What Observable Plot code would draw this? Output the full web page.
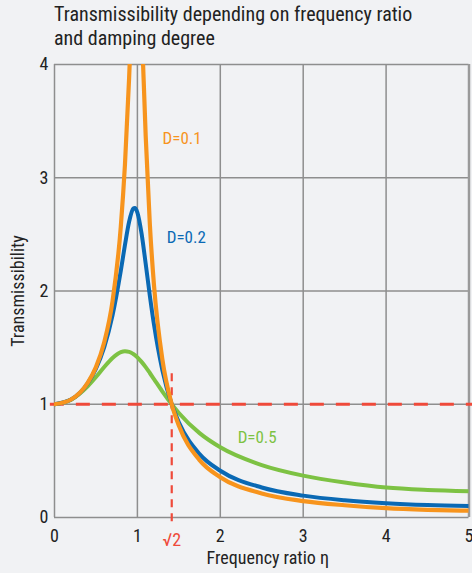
<!DOCTYPE html>
<html><head><meta charset="utf-8">
<script src="https://cdn.jsdelivr.net/npm/d3@7"></script>
<script src="https://cdn.jsdelivr.net/npm/@observablehq/plot@0.6"></script>
<style>
body{margin:0;background:#f1f2f4;width:472px;height:573px;overflow:hidden;font-family:"Liberation Sans Narrow","Roboto Condensed","DejaVu Sans Condensed",Roboto,sans-serif;}
#title{position:absolute;left:54px;top:0;font-size:20px;line-height:24.5px;color:#222;padding-top:1.5px;white-space:nowrap}
#chart{position:absolute;left:0;top:50px}
</style></head><body>
<div id="title">Transmissibility depending on frequency ratio<br>and damping degree</div>
<div id="chart"></div>
<script>
const eta = [0, 0.2, 0.4, 0.5, 0.6, 0.7, 0.8, 0.85, 0.9, 0.95, 0.97, 1, 1.05, 1.1, 1.15, 1.2, 1.3, 1.414, 1.5, 1.75, 2, 2.5, 3, 3.5, 4, 4.5, 5];
const tD01 = [1, 1.042, 1.189, 1.328, 1.547, 1.909, 2.571, 3.117, 3.88, 4.77, 5.02, 5.10, 4.37, 3.37, 2.59, 2.052, 1.401, 1.0, 0.812, 0.507, 0.356, 0.212, 0.145, 0.108, 0.082, 0.068, 0.060];
const tD02 = [1, 1.041, 1.184, 1.314, 1.505, 1.785, 2.180, 2.407, 2.611, 2.727, 2.733, 2.693, 2.509, 2.241, 1.959, 1.704, 1.305, 1.0, 0.841, 0.560, 0.413, 0.265, 0.193, 0.152, 0.126, 0.110, 0.101];
const tD05 = [1, 1.040, 1.158, 1.240, 1.329, 1.409, 1.460, 1.468, 1.463, 1.444, 1.434, 1.414, 1.374, 1.328, 1.276, 1.222, 1.114, 1.0, 0.923, 0.745, 0.620, 0.463, 0.370, 0.309, 0.264, 0.243, 0.232];
const curveNames = ["D=0.1", "D=0.2", "D=0.5"];
const labelEta = [1.54, 1.59, 2.445];
const labelT = [3.347, 2.475, 0.704];
const xTicks = [0, 1, 2, 3, 4, 5];
const yTicks = [0, 1, 2, 3, 4];
const marker = [{x: 1.4142, label: "√2"}];
const limitTop = [1.27];
const xLabel = "Frequency ratio η";
const yLabel = "Transmissibility";

const colors = {"D=0.1": "#f7941d", "D=0.2": "#0a69b4", "D=0.5": "#7dc243"};
const red = "#ef4a3a";
const grid = "#8e8e8e";
const font = '"Liberation Sans Narrow","Roboto Condensed","DejaVu Sans Condensed",Roboto,sans-serif';

const series = [tD01, tD02, tD05];
const rows = n => eta.map((e, i) => ({eta: e, t: series[n][i]}));
const labels = curveNames.map((name, i) => ({name, x: labelEta[i], y: labelT[i]}));

const svg = Plot.plot({
  width: 472, height: 523,
  marginTop: 14, marginLeft: 54, marginRight: 3.5, marginBottom: 56,
  x: {domain: [0, 5]},
  y: {domain: [0, 4]},
  style: {fontFamily: font, fontSize: "18px", background: "transparent", color: "#222", overflow: "visible"},
  marks: [
    Plot.ruleX(xTicks, {y1: 0, y2: 4, stroke: grid, strokeWidth: 1.5}),
    Plot.ruleY(yTicks, {x1: 0, x2: 5, stroke: grid, strokeWidth: 1.5}),
    Plot.ruleX([5], {y1: 0, y2: 4, stroke: "#9a9a9a", strokeWidth: 2.5}),
    Plot.ruleY([1], {x1: -0.05, x2: 5.05, stroke: red, strokeWidth: 3.2, strokeDasharray: "14,12"}),
    Plot.ruleX(marker, {x: "x", y1: limitTop[0], y2: -0.07, stroke: red, strokeWidth: 2.2, strokeDasharray: "8,6"}),
    Plot.line(rows(2), {x: "eta", y: "t", stroke: colors["D=0.5"], strokeWidth: 4, curve: "monotone-x", clip: true}),
    Plot.line(rows(1), {x: "eta", y: "t", stroke: colors["D=0.2"], strokeWidth: 4, curve: "monotone-x", clip: true}),
    Plot.line(rows(0), {x: "eta", y: "t", stroke: colors["D=0.1"], strokeWidth: 4.2, curve: "monotone-x", clip: true}),
    Plot.axisX({ticks: xTicks, tickFormat: d => String(d), tickSize: 0, tickPadding: 12, label: null, fontSize: 18}),
    Plot.axisY({ticks: yTicks, tickFormat: d => String(d), tickSize: 0, tickPadding: 6, label: null, fontSize: 18}),
    Plot.text(marker, {x: "x", text: "label", frameAnchor: "bottom", dy: 28, fill: red, fontSize: 18}),
    Plot.text(labels, {x: "x", y: "y", text: "name", fill: d => colors[d.name], fontSize: 17}),
    Plot.text([xLabel], {frameAnchor: "bottom", dy: 46, dx: 6, fontSize: 18}),
    Plot.text([yLabel], {frameAnchor: "left", textAnchor: "middle", dx: -36.5, rotate: -90, fontSize: 18})
  ]
});
document.getElementById("chart").append(svg);
</script></body></html>
